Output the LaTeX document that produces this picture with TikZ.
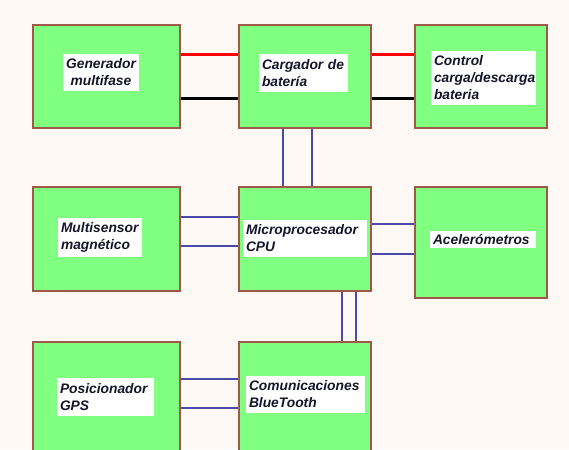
\documentclass[tikz,border=0pt]{standalone}
\usepackage{fontspec}
\setmainfont{Liberation Sans}
\definecolor{fondo}{HTML}{FEF9F4}
\definecolor{verde}{HTML}{80FF80}
\definecolor{borde}{HTML}{A0584A}
\definecolor{azul}{HTML}{4A4AAA}
\definecolor{texto}{HTML}{15152A}

\begin{document}
\begin{tikzpicture}[x=1pt,y=-1pt,
        bloque/.style={draw=borde,fill=verde,line width=1.5pt,inner sep=0pt},
        etiq/.style={fill=white,text=texto,font=\fontsize{13.8}{17}\selectfont\bfseries\itshape,align=left,inner xsep=3pt,inner ysep=5pt},
        bus/.style={draw=azul,line width=1.1pt},
        fase/.style={line width=3pt}]
        \path[use as bounding box,clip] (0,0) rectangle (569,449);
        \fill[fondo] (0,0) rectangle (569,449);

        \node[bloque,minimum width=147pt,minimum height=103pt] (gen) at (106.5,76.5) {};
        \node[bloque,minimum width=132pt,minimum height=103pt] (carg) at (305,76.5) {};
        \node[bloque,minimum width=132pt,minimum height=103pt] (ctrl) at (481,76.5) {};
        \node[bloque,minimum width=147pt,minimum height=104pt] (multi) at (106.5,239) {};
        \node[bloque,minimum width=132pt,minimum height=104pt] (micro) at (305,239) {};
        \node[bloque,minimum width=132pt,minimum height=111pt] (acel) at (481,242.5) {};
        \node[bloque,minimum width=147pt,minimum height=118pt] (gps) at (106.5,401) {};
        \node[bloque,minimum width=132pt,minimum height=118pt] (bt) at (305,401) {};

        \node[etiq,text width=70pt,align=center] (lgen) at (101,72.5) {Generador\\multifase};
        \node[etiq,text width=83pt] (lcarg) at (303.5,73) {Cargador de\\batería};
        \node[etiq,text width=99pt] (lctrl) at (483.5,78) {Control\\carga/descarga\\bateria};
        \node[etiq,text width=78pt] (lmulti) at (100,237.5) {Multisensor\\magnético};
        \node[etiq,text width=118pt] (lmicro) at (305,238.5) {Microprocesador\\CPU};
        \node[etiq,text width=100pt,inner ysep=3pt] (lacel) at (483,239.5) {Acelerómetros};
        \node[etiq,text width=91pt] (lgps) at (105.5,397) {Posicionador\\GPS};
        \node[etiq,text width=113pt] (lbt) at (305.5,394.5) {Comunicaciones\\BlueTooth};

        \draw[fase,red] ([yshift=22pt]gen.east) -- ([yshift=22pt]carg.west);
        \draw[fase,black] ([yshift=-22.5pt]gen.east) -- ([yshift=-22.5pt]carg.west);
        \draw[fase,red] ([yshift=22pt]carg.east) -- ([yshift=22pt]ctrl.west);
        \draw[fase,black] ([yshift=-22.5pt]carg.east) -- ([yshift=-22.5pt]ctrl.west);

        \draw[bus] ([xshift=-22pt]carg.south) -- ([xshift=-22pt]micro.north);
        \draw[bus] ([xshift=7pt]carg.south) -- ([xshift=7pt]micro.north);
        \draw[bus] ([yshift=22pt]multi.east) -- ([yshift=22pt]micro.west);
        \draw[bus] ([yshift=-7pt]multi.east) -- ([yshift=-7pt]micro.west);
        \draw[bus] ([yshift=15pt]micro.east) -- ([yshift=15pt]micro.east -| acel.west);
        \draw[bus] ([yshift=-15pt]micro.east) -- ([yshift=-15pt]micro.east -| acel.west);
        \draw[bus] ([xshift=37pt]micro.south) -- ([xshift=37pt]bt.north);
        \draw[bus] ([xshift=51pt]micro.south) -- ([xshift=51pt]bt.north);
        \draw[bus] ([yshift=22pt]gps.east) -- ([yshift=22pt]bt.west);
        \draw[bus] ([yshift=-7pt]gps.east) -- ([yshift=-7pt]bt.west);
\end{tikzpicture}
\end{document}
